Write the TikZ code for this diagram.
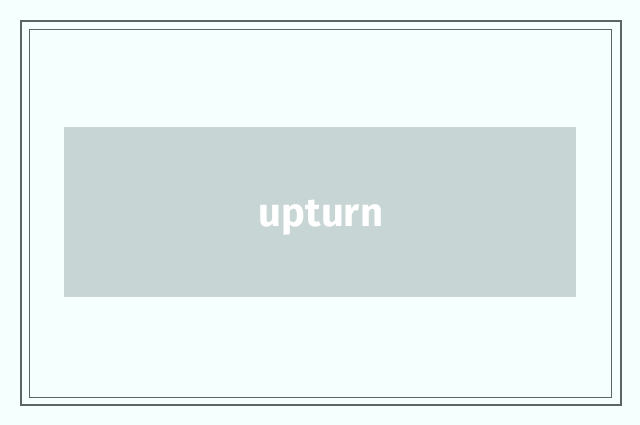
\documentclass[tikz,border=0pt]{standalone}
\usepackage{fontspec}
\setmainfont{Fira Sans}
\definecolor{bg}{HTML}{F4FFFE}
\definecolor{frame}{HTML}{5A6666}
\definecolor{boxc}{HTML}{C8D5D5}
\tikzset{
  outerframe/.style={draw=frame, line width=2pt},
  innerframe/.style={draw=frame, line width=0.9pt},
  labelbox/.style={fill=boxc, draw=none, minimum width=512pt, minimum height=170pt, inner sep=0pt},
  labeltext/.style={text=white, inner sep=0pt, anchor=base, font=\fontsize{40}{46}\selectfont\bfseries}
}
\begin{document}
\begin{tikzpicture}[x=1pt,y=-1pt]
\fill[bg] (0,0) rectangle (640,425);
\useasboundingbox (0,0) rectangle (640,425);
\draw[outerframe] (21,21) rectangle (621,405);
\draw[innerframe] (29.5,29.5) rectangle (611.5,397.5);
\node[labelbox] (main) at (320,212) {};
\node[labeltext] (word) at (321,226) {upturn};
\end{tikzpicture}
\end{document}
